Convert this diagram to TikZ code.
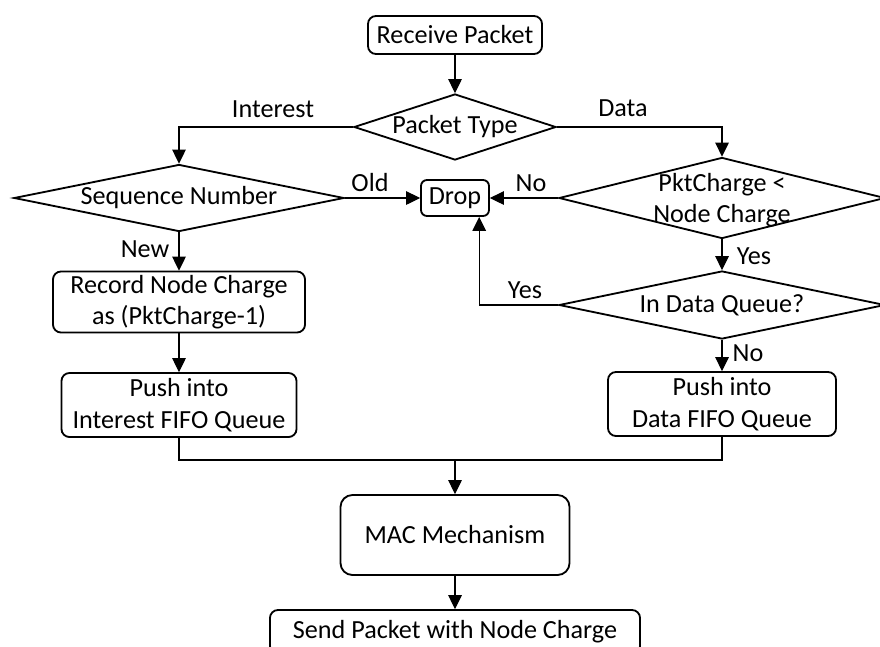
\documentclass[tikz,border=0pt]{standalone}
\usepackage{fontspec}
\setmainfont{Carlito}
\usetikzlibrary{shapes.geometric, arrows.meta}
\tikzset{
  blk/.style = {draw, rectangle, rounded corners=2mm, align=center, inner sep=0pt,
                line width=1.3pt},
  dec/.style = {draw, diamond, align=center, inner sep=0pt, line width=1.3pt},
  ar/.style  = {-{Triangle[length=3.5mm, width=3.4mm]}, line width=0.8pt},
  ln/.style  = {line width=0.8pt},
  lbl/.style = {inner sep=1pt},
}
\newcommand{\px}{0.25mm}

\begin{document}
\begin{tikzpicture}[x=0.025cm, y=-0.025cm,
    every node/.style={font=\fontsize{18.6}{22.5}\selectfont}]
    \useasboundingbox (0,0) rectangle (880,646);
    % blocks and decisions
    \node[blk, minimum width=174*\px, minimum height=38*\px] (recv) at (455,35) {Receive Packet};
    \node[dec, aspect=3, minimum width=202*\px, minimum height=66*\px] (ptype) at (455,127) {Packet Type};
    \node[dec, aspect=5, minimum width=330*\px, minimum height=67*\px] (seqn) at (179,198) {Sequence Number};
    \node[blk, rounded corners=1.5mm, minimum width=68*\px, minimum height=36*\px] (drop) at (455,198) {Drop};
    \node[dec, minimum width=326*\px, minimum height=81*\px] (chg) at (722,198) {};
    \node[align=center] (chgtxt) at (722,200) {PktCharge <\\Node Charge};
    \node[dec, aspect=4.7, minimum width=326*\px, minimum height=68*\px] (inq) at (722,305) {In Data Queue?};
    \node[blk, minimum width=252*\px, minimum height=61*\px] (rec) at (179,302) {Record Node Charge\\as (PktCharge-1)};
    \node[blk, minimum width=235*\px, minimum height=64*\px] (pushi) at (179,405) {Push into\\Interest FIFO Queue};
    \node[blk, minimum width=228*\px, minimum height=64*\px] (pushd) at (722,404) {Push into\\Data FIFO Queue};
    \node[blk, rounded corners=3mm, minimum width=229*\px, minimum height=80*\px] (mac) at (455,535) {MAC Mechanism};
    \node[blk, minimum width=370*\px, minimum height=44*\px] (send) at (455,632) {Send Packet with Node Charge};
    \coordinate (mrg) at (455,460);

    % connectors
    \draw[ar] (recv) -- (ptype);
    \draw[ar] (ptype.west) -| (seqn.north);
    \draw[ar] (ptype.east) -| (chg.north);
    \draw[ar] (seqn.east) -- (drop.west);
    \draw[ar] (chg.west) -- (drop.east);
    \draw[ar] (seqn.south) -- (rec.north);
    \draw[ar] (chg.south) -- (inq.north);
    \draw[ar] (inq.west) -| (drop.-38);
    \draw[ar] (inq.south) -- (pushd.north);
    \draw[ar] (rec.south) -- (pushi.north);
    \draw[ln] (pushi.south) |- (mrg) -| (pushd.south);
    \draw[ar] (mrg) -- (mac.north);
    \draw[ar] (mac.south) -- (send.north);

    % branch labels
    \node[lbl] (linterest) at (273,109) {Interest};
    \node[lbl] (ldata) at (623,108) {Data};
    \node[lbl] (lold) at (370,183) {Old};
    \node[lbl] (lno) at (531,183) {No};
    \node[lbl] (lnew) at (145,249) {New};
    \node[lbl] (lyes) at (754,256) {Yes};
    \node[lbl] (lyesdrop) at (525,290) {Yes};
    \node[lbl] (lnoq) at (748,353) {No};
\end{tikzpicture}
\end{document}
